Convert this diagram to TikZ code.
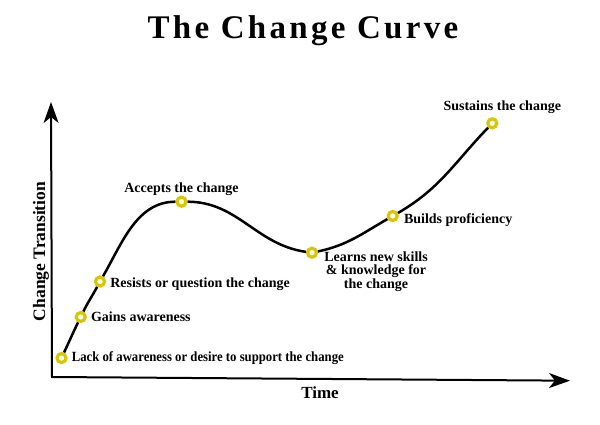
\documentclass[tikz,border=0pt]{standalone}
\usepackage{fontspec}
\setmainfont{Liberation Serif}
\usetikzlibrary{arrows.meta,positioning}
\definecolor{ringyellow}{HTML}{D8C600}

\begin{document}
\begin{tikzpicture}[x=1pt,y=1pt,
  stage/.style={circle,draw=ringyellow,line width=3.2pt,fill=white,
                minimum size=9pt,inner sep=0pt},
  lbl/.style={font=\fontsize{14}{13.3}\selectfont\bfseries,inner sep=0pt},
  axes/.style={line width=2pt,
               {Stealth[length=21pt,width=15pt,inset=6pt]}-{Stealth[length=21pt,width=15pt,inset=6pt]}},
  curve/.style={line width=2.5pt}
]
  \useasboundingbox (0,0) rectangle (600,424);
  \node[anchor=base,font={\fontsize{33}{36}\selectfont\bfseries\addfontfeature{LetterSpace=10}}]
    (title) at (303,385) {The Change Curve};

  % axes
  \coordinate (ytop) at (51,322);
  \coordinate (origin) at (52,47);
  \coordinate (xend) at (570,43.3);
  \draw[axes] (ytop) -- (origin) -- (xend);
  \node[font=\fontsize{17}{17}\selectfont\bfseries] (xlab) at (320,31) {Time};
  \node[font=\fontsize{17.5}{17.5}\selectfont\bfseries,rotate=90] (ylab) at (41,172.5) {Change Transition};

  % stages on the curve
  \node[stage] (p1) at (61.5,66) {};
  \node[stage] (p2) at (80.7,107) {};
  \node[stage] (p3) at (100,142.5) {};
  \node[stage] (p4) at (181.5,222.3) {};
  \node[stage] (p5) at (312,171.3) {};
  \node[stage] (p6) at (392.7,208) {};
  \node[stage] (p7) at (492.3,300.7) {};

  \draw[curve] (p1) to[out=65,in=244] (p2) to[out=64,in=242] (p3)
    to[out=60,in=180,looseness=0.95] (p4) to[out=0,in=172] (p5)
    to[out=12,in=210] (p6) to[out=30,in=226] (p7);

  % labels
  \node[lbl,right=4pt of p1] (l1) {\scalebox{0.91}[1]{Lack of awareness or desire to support the change}};
  \node[lbl,right=4pt of p2] (l2) {Gains awareness};
  \node[lbl,right=4pt of p3,yshift=-3pt] (l3) {Resists or question the change};
  \node[lbl,above=0pt of p4] (l4) {Accepts the change};
  \node[lbl,align=center,below right=-1pt and 6pt of p5.east] (l5)
    {Learns new skills\\ \& knowledge for\\ the change};
  \node[lbl,right=5pt of p6,yshift=-4pt] (l6) {Builds proficiency};
  \node[lbl,above=3.6pt of p7,xshift=10pt] (l7) {Sustains the change};
\end{tikzpicture}
\end{document}
